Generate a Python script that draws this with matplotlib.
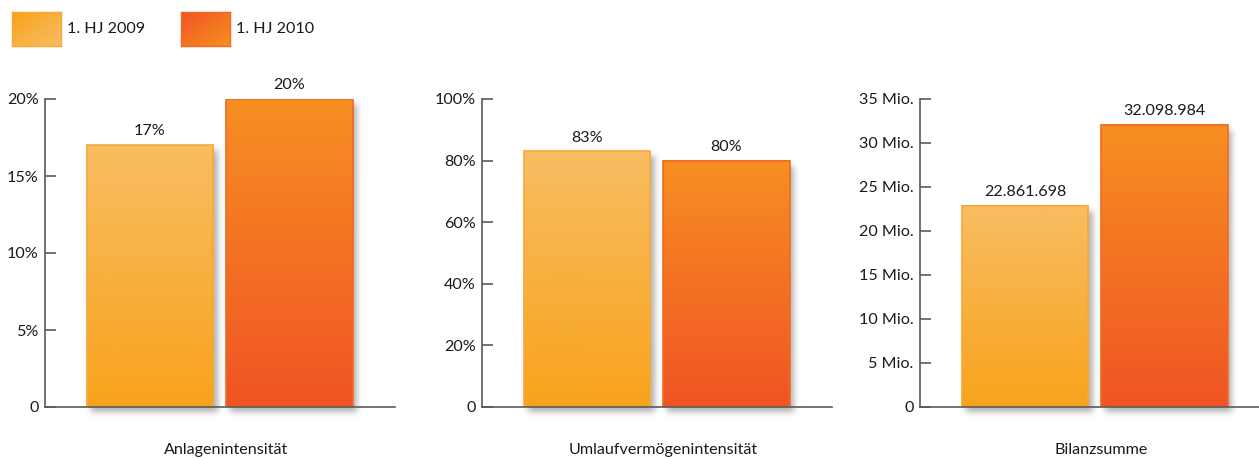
import numpy as np
import matplotlib
matplotlib.use("Agg")
import matplotlib.pyplot as plt
from matplotlib.colors import to_rgb
from matplotlib.patches import Rectangle

plt.rcParams['font.family'] = ['Lato', 'DejaVu Sans']

# ---------------- data ----------------
series_names = ["1. HJ 2009", "1. HJ 2010"]
panel_titles = ["Anlagenintensität", "Umlaufvermögenintensität", "Bilanzsumme"]
anlagen = [17, 20]
umlauf = [83, 80]
bilanz = [22861698, 32098984]
anlagen_ticks = [0, 5, 10, 15, 20]
umlauf_ticks = [0, 20, 40, 60, 80, 100]
bilanz_ticks = [0, 5e6, 10e6, 15e6, 20e6, 25e6, 30e6, 35e6]

# ---------------- style ----------------
W, H = 1259, 459
DPI = 100
grad_top = ["#F8BD62", "#F78F22"]
grad_bot = ["#F8A31C", "#F05424"]
edge_cols = ["#F7A934", "#F26A22"]
axis_col = "#5a5a5a"
text_col = "#1a1a1a"
FS = 11.6

fig = plt.figure(figsize=(W / DPI, H / DPI), dpi=DPI)

ax_left_px = [45, 482, 920]
ax_w_px = 350
ax_bottom_px = 407
ax_top_px = 99


def vgrad(top, bot, n=256):
    t = np.linspace(0, 1, n)[:, None]
    a = np.array(to_rgb(top))[None, :]
    b = np.array(to_rgb(bot))[None, :]
    return (a * (1 - t) + b * t)[:, None, :]


def blur(a, r):
    k = np.exp(-0.5 * (np.arange(-3 * r, 3 * r + 1) / r) ** 2)
    k /= k.sum()
    a = np.apply_along_axis(lambda v: np.convolve(v, k, mode='same'), 0, a)
    a = np.apply_along_axis(lambda v: np.convolve(v, k, mode='same'), 1, a)
    return a


axes = []
for i in range(3):
    ax = fig.add_axes([ax_left_px[i] / W, 1 - ax_bottom_px / H,
                       ax_w_px / W, (ax_bottom_px - ax_top_px) / H])
    ax.patch.set_visible(False)
    axes.append(ax)

panels = [
    (anlagen, anlagen_ticks, lambda v: "0" if v == 0 else f"{v:g}%", lambda v: f"{v}%"),
    (umlauf, umlauf_ticks, lambda v: "0" if v == 0 else f"{v:g}%", lambda v: f"{v}%"),
    (bilanz, bilanz_ticks, lambda v: "0" if v == 0 else f"{v/1e6:g} Mio.",
     lambda v: f"{v:,}".replace(",", ".")),
]

xpos = np.arange(2)
bw = 0.907
xlim = (-0.753, 1.756)

for i, (ax, (vals, ticks, tfmt, vfmt)) in enumerate(zip(axes, panels)):
    ax.set_xlim(*xlim)
    ax.set_ylim(0, ticks[-1])
    bars = ax.bar(xpos, vals, width=bw, facecolor='none', edgecolor='none', zorder=3)
    fig.canvas.draw()
    for j, b in enumerate(bars):
        x0, y0 = b.get_x(), 0
        x1, y1 = b.get_x() + b.get_width(), b.get_height()
        ax.imshow(vgrad(grad_top[j], grad_bot[j]), extent=[x0, x1, y0, y1],
                  aspect='auto', zorder=2, interpolation='bilinear')
        ax.add_patch(Rectangle((x0, y0), x1 - x0, y1 - y0, facecolor='none',
                               edgecolor=edge_cols[j], lw=1.2, zorder=3))
        # soft drop shadow (pixel space)
        (px0, py0), (px1, py1) = ax.transData.transform([(x0, y0), (x1, y1)])
        m = 14
        wpx = int(round(px1 - px0)) + 2 * m
        hpx = int(round(py1 - py0)) + 2 * m
        a = np.zeros((hpx, wpx))
        a[m:hpx - m, m:wpx - m] = 1.0
        a = blur(a, 3.0) * 0.45
        img = np.zeros((hpx, wpx, 4))
        img[..., :3] = 0.35
        img[..., 3] = a
        fig.figimage(img, xo=int(round(px0)) - m + 4, yo=int(round(py0)) - m - 5,
                     origin='upper', zorder=-1)
        ax.text(xpos[j], vals[j] + ticks[-1] * 0.022, vfmt(vals[j]), ha='center',
                va='bottom', fontsize=FS, color=text_col, zorder=5)
    ax.set_xlim(*xlim)
    ax.set_ylim(0, ticks[-1])
    ax.set_yticks(ticks)
    ax.set_yticklabels([tfmt(t) for t in ticks])
    ax.set_xticks([])
    for s in ['top', 'right']:
        ax.spines[s].set_visible(False)
    for s in ['left', 'bottom']:
        ax.spines[s].set_color(axis_col)
        ax.spines[s].set_linewidth(1.2)
        ax.spines[s].set_zorder(4)
    ax.tick_params(axis='y', direction='in', length=8, width=1.2, color=axis_col,
                   pad=4.5, labelsize=FS, labelcolor=text_col)
    ax.text(0.517, -0.14, panel_titles[i], transform=ax.transAxes, ha='center',
            va='center', fontsize=FS, color=text_col)

# ---------------- legend ----------------
leg_x = [12, 181]
leg_dirs = [("#F8A31C", "#F8BD62"), ("#F05424", "#F78F22")]
for j in range(2):
    lax = fig.add_axes([leg_x[j] / W, 1 - 46 / H, 49 / W, 34 / H])
    n = 64
    yy, xx = np.mgrid[0:n, 0:n] / (n - 1)
    if j == 0:
        t = (xx + (1 - yy)) / 2
    else:
        t = (xx + yy) / 2
    t = t[::-1] if j == 0 else t
    c0 = np.array(to_rgb(leg_dirs[j][0]))
    c1 = np.array(to_rgb(leg_dirs[j][1]))
    img = c0 * (1 - t[..., None]) + c1 * t[..., None]
    lax.imshow(img, aspect='auto', extent=[0, 1, 0, 1], interpolation='bilinear')
    for s in lax.spines.values():
        s.set_color(edge_cols[j])
        s.set_linewidth(1.0)
    lax.set_xticks([])
    lax.set_yticks([])
    fig.text((leg_x[j] + 55) / W, 1 - 29 / H, series_names[j], ha='left', va='center',
             fontsize=FS, color=text_col)

fig.savefig("out.png", dpi=DPI, facecolor='white')
